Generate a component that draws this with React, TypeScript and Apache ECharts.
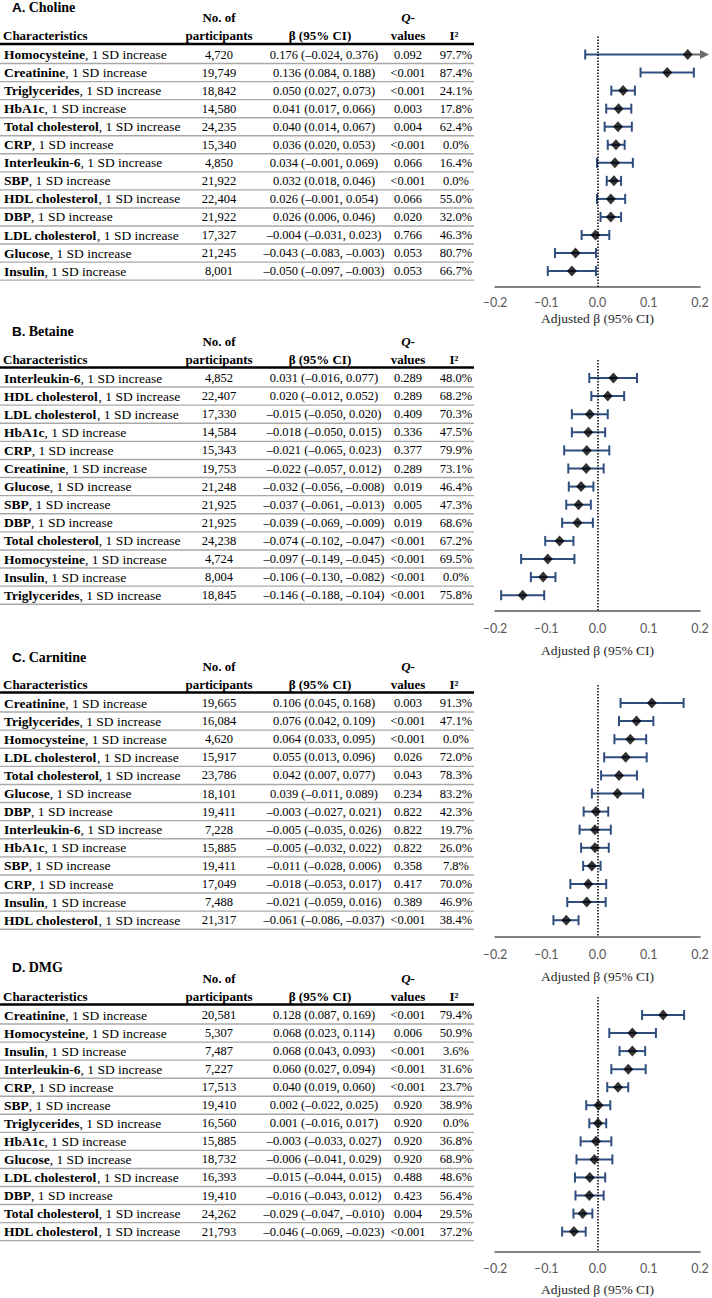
import React, { useEffect, useRef } from "react";
import * as echarts from "echarts";

// ---------- DATA ----------
const panelLetters = ["A.", "B.", "C.", "D."];
const panelNames = ["Choline", "Betaine", "Carnitine", "DMG"];

const namesA = ["Homocysteine", "Creatinine", "Triglycerides", "HbA1c", "Total cholesterol", "CRP", "Interleukin-6", "SBP", "HDL cholesterol", "DBP", "LDL cholesterol", "Glucose", "Insulin"];
const nA = [4720, 19749, 18842, 14580, 24235, 15340, 4850, 21922, 22404, 21922, 17327, 21245, 8001];
const betaA = [0.176, 0.136, 0.050, 0.041, 0.040, 0.036, 0.034, 0.032, 0.026, 0.026, -0.004, -0.043, -0.050];
const lowA = [-0.024, 0.084, 0.027, 0.017, 0.014, 0.020, -0.001, 0.018, -0.001, 0.006, -0.031, -0.083, -0.097];
const upA = [0.376, 0.188, 0.073, 0.066, 0.067, 0.053, 0.069, 0.046, 0.054, 0.046, 0.023, -0.003, -0.003];
const qA = ["0.092", "<0.001", "<0.001", "0.003", "0.004", "<0.001", "0.066", "<0.001", "0.066", "0.020", "0.766", "0.053", "0.053"];
const i2A = [97.7, 87.4, 24.1, 17.8, 62.4, 0.0, 16.4, 0.0, 55.0, 32.0, 46.3, 80.7, 66.7];

const namesB = ["Interleukin-6", "HDL cholesterol", "LDL cholesterol", "HbA1c", "CRP", "Creatinine", "Glucose", "SBP", "DBP", "Total cholesterol", "Homocysteine", "Insulin", "Triglycerides"];
const nB = [4852, 22407, 17330, 14584, 15343, 19753, 21248, 21925, 21925, 24238, 4724, 8004, 18845];
const betaB = [0.031, 0.020, -0.015, -0.018, -0.021, -0.022, -0.032, -0.037, -0.039, -0.074, -0.097, -0.106, -0.146];
const lowB = [-0.016, -0.012, -0.050, -0.050, -0.065, -0.057, -0.056, -0.061, -0.069, -0.102, -0.149, -0.130, -0.188];
const upB = [0.077, 0.052, 0.020, 0.015, 0.023, 0.012, -0.008, -0.013, -0.009, -0.047, -0.045, -0.082, -0.104];
const qB = ["0.289", "0.289", "0.409", "0.336", "0.377", "0.289", "0.019", "0.005", "0.019", "<0.001", "<0.001", "<0.001", "<0.001"];
const i2B = [48.0, 68.2, 70.3, 47.5, 79.9, 73.1, 46.4, 47.3, 68.6, 67.2, 69.5, 0.0, 75.8];

const namesC = ["Creatinine", "Triglycerides", "Homocysteine", "LDL cholesterol", "Total cholesterol", "Glucose", "DBP", "Interleukin-6", "HbA1c", "SBP", "CRP", "Insulin", "HDL cholesterol"];
const nC = [19665, 16084, 4620, 15917, 23786, 18101, 19411, 7228, 15885, 19411, 17049, 7488, 21317];
const betaC = [0.106, 0.076, 0.064, 0.055, 0.042, 0.039, -0.003, -0.005, -0.005, -0.011, -0.018, -0.021, -0.061];
const lowC = [0.045, 0.042, 0.033, 0.013, 0.007, -0.011, -0.027, -0.035, -0.032, -0.028, -0.053, -0.059, -0.086];
const upC = [0.168, 0.109, 0.095, 0.096, 0.077, 0.089, 0.021, 0.026, 0.022, 0.006, 0.017, 0.016, -0.037];
const qC = ["0.003", "<0.001", "<0.001", "0.026", "0.043", "0.234", "0.822", "0.822", "0.822", "0.358", "0.417", "0.389", "<0.001"];
const i2C = [91.3, 47.1, 0.0, 72.0, 78.3, 83.2, 42.3, 19.7, 26.0, 7.8, 70.0, 46.9, 38.4];

const namesD = ["Creatinine", "Homocysteine", "Insulin", "Interleukin-6", "CRP", "SBP", "Triglycerides", "HbA1c", "Glucose", "LDL cholesterol", "DBP", "Total cholesterol", "HDL cholesterol"];
const nD = [20581, 5307, 7487, 7227, 17513, 19410, 16560, 15885, 18732, 16393, 19410, 24262, 21793];
const betaD = [0.128, 0.068, 0.068, 0.060, 0.040, 0.002, 0.001, -0.003, -0.006, -0.015, -0.016, -0.029, -0.046];
const lowD = [0.087, 0.023, 0.043, 0.027, 0.019, -0.022, -0.016, -0.033, -0.041, -0.044, -0.043, -0.047, -0.069];
const upD = [0.169, 0.114, 0.093, 0.094, 0.060, 0.025, 0.017, 0.027, 0.029, 0.015, 0.012, -0.010, -0.023];
const qD = ["<0.001", "0.006", "<0.001", "<0.001", "<0.001", "0.920", "0.920", "0.920", "0.920", "0.488", "0.423", "0.004", "<0.001"];
const i2D = [79.4, 50.9, 3.6, 31.6, 23.7, 38.9, 0.0, 36.8, 68.9, 48.6, 56.4, 29.5, 37.2];

const xTicks = { min: -0.2, max: 0.2, interval: 0.1 };
const axisTitle = "Adjusted β (95% CI)";
const rowSuffix = ", 1 SD increase";

// ---------- LAYOUT ----------
const layouts = [
  { title: 7, row0: 54.5, step: 18.05, axisY: 287, tickY: 302, labelY: 318 },
  { title: 331, row0: 378, step: 18.1, axisY: 611, tickY: 628, labelY: 650 },
  { title: 657, row0: 703, step: 18.1, axisY: 937, tickY: 954, labelY: 976 },
  { title: 967, row0: 1015, step: 18.05, axisY: 1252, tickY: 1268, labelY: 1289 },
];

const SERIF = "'Liberation Serif', 'Times New Roman', serif";
const SANS = "'Liberation Sans', Arial, sans-serif";
const TICKFONT = "Lato, 'Open Sans', sans-serif";
const BLUE = "#2F4E7E";
const GRAY_ARROW = "#6b6b6b";
const FS = 12.5;
const FS_NAME = 13.5;
const FS_HEAD = 13;

const fmt = (v: number) => v.toFixed(3).replace("-", "–");

export default function App() {
  const ref = useRef<HTMLDivElement>(null);

  useEffect(() => {
    document.body.style.margin = "0";
    if (!ref.current) return;
    const chart = echarts.init(ref.current, null, { renderer: "svg" });

    const panels = [
      { names: namesA, n: nA, beta: betaA, low: lowA, up: upA, q: qA, i2: i2A },
      { names: namesB, n: nB, beta: betaB, low: lowB, up: upB, q: qB, i2: i2B },
      { names: namesC, n: nC, beta: betaC, low: lowC, up: upC, q: qC, i2: i2C },
      { names: namesD, n: nD, beta: betaD, low: lowD, up: upD, q: qD, i2: i2D },
    ];

    const grids: any[] = [];
    const xAxes: any[] = [];
    const yAxes: any[] = [];
    const series: any[] = [];
    const graphics: any[] = [];

    const txt = (x: number, y: number, text: string, align: string, extra: any = {}) => ({
      type: "text",
      x,
      y,
      silent: true,
      style: {
        text,
        x: 0,
        y: 0,
        align,
        verticalAlign: "middle",
        fontFamily: SERIF,
        fontSize: FS,
        fill: "#000",
        ...extra,
      },
    });
    const hline = (y: number, color: string, w: number) => ({
      type: "line",
      silent: true,
      shape: { x1: 0, y1: y, x2: 474, y2: y },
      style: { stroke: color, lineWidth: w },
    });

    panels.forEach((p, pi) => {
      const L = layouts[pi];
      const gTop = L.row0 - 18;
      grids.push({ left: 495, width: 205, top: gTop, height: L.axisY - gTop });
      xAxes.push({
        gridIndex: pi,
        type: "value",
        min: xTicks.min,
        max: xTicks.max,
        interval: xTicks.interval,
        axisLine: { show: true, onZero: false, lineStyle: { color: "#595959", width: 1.5 } },
        axisTick: { show: false },
        splitLine: { show: false },
        axisLabel: {
          margin: L.tickY - L.axisY - 6,
          color: "#595959",
          fontFamily: TICKFONT,
          fontSize: 12.5,
          formatter: (v: number) => v.toFixed(1).replace("-", "–"),
        },
        name: axisTitle,
        nameLocation: "middle",
        nameGap: L.labelY - L.axisY - 7,
        nameTextStyle: { fontFamily: SERIF, fontSize: 13.5, color: "#262626" },
      });
      yAxes.push({
        gridIndex: pi,
        type: "value",
        inverse: true,
        show: false,
        min: (gTop - L.row0) / L.step,
        max: (L.axisY - L.row0) / L.step,
      });

      const rows = p.beta.map((b, i) => [b, i, p.low[i], p.up[i]]);
      series.push({
        type: "custom",
        xAxisIndex: pi,
        yAxisIndex: pi,
        clip: false,
        silent: true,
        data: rows,
        encode: { x: 0, y: 1 },
        renderItem: (_params: any, api: any) => {
          const b = api.value(0);
          const r = api.value(1);
          const lo = api.value(2);
          const hi = api.value(3);
          const clipped = hi > xTicks.max;
          const pLo = api.coord([lo, r]);
          const pB = api.coord([b, r]);
          const pHi = api.coord([clipped ? xTicks.max : hi, r]);
          const y = pLo[1];
          const cap = 5;
          const st = { stroke: BLUE, lineWidth: 2 };
          const children: any[] = [
            { type: "line", shape: { x1: pLo[0], y1: y, x2: clipped ? pB[0] : pHi[0], y2: y }, style: st },
            { type: "line", shape: { x1: pLo[0], y1: y - cap, x2: pLo[0], y2: y + cap }, style: st },
          ];
          if (clipped) {
            children.push({ type: "line", shape: { x1: pB[0], y1: y, x2: pHi[0], y2: y }, style: { stroke: GRAY_ARROW, lineWidth: 2 } });
            children.push({
              type: "polygon",
              shape: { points: [[pHi[0], y - 4.5], [pHi[0] + 9, y], [pHi[0], y + 4.5]] },
              style: { fill: GRAY_ARROW },
            });
          } else {
            children.push({ type: "line", shape: { x1: pHi[0], y1: y - cap, x2: pHi[0], y2: y + cap }, style: st });
          }
          return { type: "group", children };
        },
      });
      series.push({
        type: "scatter",
        xAxisIndex: pi,
        yAxisIndex: pi,
        symbol: "diamond",
        symbolSize: [10, 11],
        itemStyle: { color: "#000" },
        silent: true,
        z: 5,
        data: p.beta.map((b, i) => [b, i]),
        markLine: {
          silent: true,
          symbol: ["none", "none"],
          label: { show: false },
          lineStyle: { type: [1.5, 1.5], color: "#000", width: 1.5 },
          data: [{ xAxis: 0 }],
        },
      });

      // ---- table ----
      graphics.push(
        txt(12, L.title, `{s|${panelLetters[pi]}} {t|${panelNames[pi]}}`, "left", {
          rich: {
            s: { fontFamily: SANS, fontWeight: "bold", fontSize: 13.5 },
            t: { fontFamily: SERIF, fontWeight: "bold", fontSize: 14 },
          },
        })
      );
      const h1 = L.row0 - 37;
      const h2 = L.row0 - 19;
      const bold = { fontWeight: "bold", fontSize: FS_HEAD };
      graphics.push(txt(219, h1, "No. of", "center", bold));
      graphics.push(txt(219, h2, "participants", "center", bold));
      graphics.push(txt(3, h2, "Characteristics", "left", bold));
      graphics.push(txt(320, h2, "β (95% CI)", "center", bold));
      graphics.push(
        txt(408, h1, "{q|Q}{d|-}", "center", {
          rich: {
            q: { fontWeight: "bold", fontStyle: "italic", fontFamily: SERIF, fontSize: FS_HEAD },
            d: { fontWeight: "bold", fontFamily: SERIF, fontSize: FS_HEAD },
          },
        })
      );
      graphics.push(txt(408, h2, "values", "center", bold));
      graphics.push(txt(454, h2, "I²", "center", bold));
      graphics.push(hline(L.row0 - 10.5, "#000", 2.5));

      p.names.forEach((nm, i) => {
        const y = L.row0 + i * L.step;
        graphics.push(
          txt(4, y, `{b|${nm}}{r|${rowSuffix}}`, "left", {
            rich: {
              b: { fontWeight: "bold", fontFamily: SERIF, fontSize: FS_NAME },
              r: { fontFamily: SERIF, fontSize: FS_NAME },
            },
          })
        );
        graphics.push(txt(219, y, p.n[i].toLocaleString("en-US"), "center"));
        graphics.push(txt(324, y, `${fmt(p.beta[i])} (${fmt(p.low[i])}, ${fmt(p.up[i])})`, "center"));
        graphics.push(txt(408, y, p.q[i], "center"));
        graphics.push(txt(456, y, `${p.i2[i].toFixed(1)}%`, "center"));
        graphics.push(hline(y + L.step / 2, "#a8a8a8", 1.4));
      });
    });

    chart.setOption({
      animation: false,
      backgroundColor: "#fff",
      grid: grids,
      xAxis: xAxes,
      yAxis: yAxes,
      series,
      graphic: graphics,
    });

    return () => chart.dispose();
  }, []);

  return <div ref={ref} style={{ width: 712, height: 1298 }} />;
}
